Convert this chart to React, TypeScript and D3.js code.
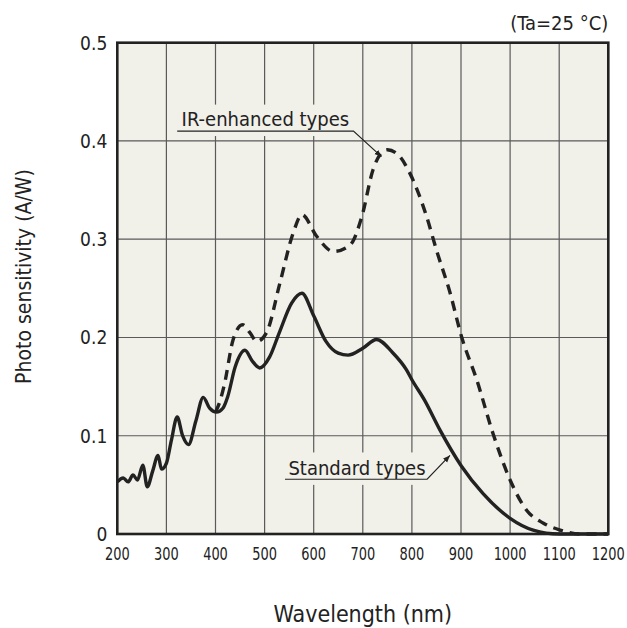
import { useEffect, useRef } from "react";
import * as d3 from "d3";

// wavelength (nm) / photo sensitivity (A/W)
const standardWl = [
  200, 212, 222, 232, 241, 252, 261, 272, 283, 290, 300, 310, 322, 333, 345,
  360, 375, 388, 402, 415, 425, 440, 460, 475, 490, 510, 530, 555, 576, 600,
  625, 650, 670, 700, 728, 760, 789, 800, 826, 857, 901, 945, 1000, 1047,
  1100, 1200,
];
const standardVal = [
  0.053, 0.057, 0.053, 0.06, 0.055, 0.07, 0.048, 0.064, 0.08, 0.066, 0.072,
  0.095, 0.119, 0.1, 0.091, 0.115, 0.139, 0.128, 0.124, 0.128, 0.14, 0.17,
  0.187, 0.176, 0.169, 0.18, 0.205, 0.235, 0.245, 0.222, 0.196, 0.184, 0.182,
  0.189, 0.198, 0.185, 0.167, 0.157, 0.136, 0.106, 0.069, 0.041, 0.016, 0.004,
  0, 0,
];

const irWl = [
  400, 409, 418, 436, 455, 470, 484, 504, 531, 558, 576, 606, 640, 674, 698,
  721, 735, 750, 772, 796, 830, 850, 878, 901, 932, 966, 1000, 1034, 1068,
  1102, 1142, 1200,
];
const irVal = [
  0.124, 0.135, 0.152, 0.198, 0.213, 0.205, 0.196, 0.205, 0.255, 0.306, 0.325,
  0.303, 0.2875, 0.294, 0.323, 0.371, 0.386, 0.391, 0.386, 0.367, 0.323, 0.289,
  0.245, 0.201, 0.157, 0.101, 0.055, 0.024, 0.011, 0.004, 0, 0,
];

const xTicks = [200, 300, 400, 500, 600, 700, 800, 900, 1000, 1100, 1200];
const yTicks = [0, 0.1, 0.2, 0.3, 0.4, 0.5];
const yTickLabels = ["0", "0.1", "0.2", "0.3", "0.4", "0.5"];

const W = 627;
const H = 628;
const margin = { top: 42.7, right: 18.7, bottom: 94, left: 117.3 };
const BG = "#f1f0e9";
const INK = "#222";
const FONT = "'DejaVu Sans Condensed', 'DejaVu Sans', sans-serif";

const App = () => {
  const svgRef = useRef<SVGSVGElement>(null);

  useEffect(() => {
    const svg = d3.select(svgRef.current);
    svg.selectAll("*").remove();

    const x = d3.scaleLinear().domain([200, 1200]).range([margin.left, W - margin.right]);
    const y = d3.scaleLinear().domain([0, 0.5]).range([H - margin.bottom, margin.top]);

    const defs = svg.append("defs");
    defs
      .append("marker")
      .attr("id", "arrow")
      .attr("viewBox", "0 0 10 10")
      .attr("refX", 10)
      .attr("refY", 5)
      .attr("markerWidth", 7)
      .attr("markerHeight", 7)
      .attr("markerUnits", "userSpaceOnUse")
      .attr("orient", "auto")
      .append("path")
      .attr("d", "M0,1 L10,5 L0,9 Z")
      .attr("fill", INK);

    // plot background
    svg
      .append("rect")
      .attr("x", x(200))
      .attr("y", y(0.5))
      .attr("width", x(1200) - x(200))
      .attr("height", y(0) - y(0.5))
      .attr("fill", BG);

    // grid
    const grid = svg.append("g").attr("stroke", "#5a5a5a").attr("stroke-width", 1.2);
    grid
      .selectAll("line.v")
      .data(xTicks)
      .enter()
      .append("line")
      .attr("x1", (d) => x(d))
      .attr("x2", (d) => x(d))
      .attr("y1", y(0))
      .attr("y2", y(0.5));
    grid
      .selectAll("line.h")
      .data(yTicks)
      .enter()
      .append("line")
      .attr("x1", x(200))
      .attr("x2", x(1200))
      .attr("y1", (d) => y(d))
      .attr("y2", (d) => y(d));

    // curves
    const line = d3
      .line<[number, number]>()
      .x((d) => x(d[0]))
      .y((d) => y(d[1]))
      .curve(d3.curveMonotoneX);

    const irData = irWl.map((w, i) => [w, irVal[i]] as [number, number]);
    const stdData = standardWl.map((w, i) => [w, standardVal[i]] as [number, number]);

    svg
      .append("path")
      .attr("d", line(irData))
      .attr("fill", "none")
      .attr("stroke", INK)
      .attr("stroke-width", 3.4)
      .attr("stroke-dasharray", "10,7");
    svg
      .append("path")
      .attr("d", line(stdData))
      .attr("fill", "none")
      .attr("stroke", INK)
      .attr("stroke-width", 3.4)
      .attr("stroke-linejoin", "round");

    // annotations (label box masks the grid behind the text)
    const annots = [
      {
        text: "IR-enhanced types",
        tx: 331, ty: 0.415,
        box: [322, 681, 0.437, 0.405],
        ul: [322, 681, 0.41],
        tip: [738, 0.384],
      },
      {
        text: "Standard types",
        tx: 548.5, ty: 0.06,
        box: [541.5, 831, 0.083, 0.05],
        ul: [541.5, 831, 0.0557],
        tip: [877.5, 0.08],
      },
    ];
    annots.forEach((a) => {
      svg
        .append("rect")
        .attr("x", x(a.box[0]))
        .attr("y", y(a.box[2]))
        .attr("width", x(a.box[1]) - x(a.box[0]))
        .attr("height", y(a.box[3]) - y(a.box[2]))
        .attr("fill", BG);
      svg
        .append("text")
        .attr("x", x(a.tx))
        .attr("y", y(a.ty))
        .attr("font-family", FONT)
        .attr("font-size", 20)
        .attr("fill", INK)
        .text(a.text);
      svg
        .append("path")
        .attr(
          "d",
          `M${x(a.ul[0])},${y(a.ul[2])} L${x(a.ul[1])},${y(a.ul[2])} L${x(a.tip[0])},${y(a.tip[1])}`
        )
        .attr("fill", "none")
        .attr("stroke", INK)
        .attr("stroke-width", 1.2)
        .attr("marker-end", "url(#arrow)");
    });

    // frame
    svg
      .append("rect")
      .attr("x", x(200))
      .attr("y", y(0.5))
      .attr("width", x(1200) - x(200))
      .attr("height", y(0) - y(0.5))
      .attr("fill", "none")
      .attr("stroke", INK)
      .attr("stroke-width", 2.6);

    // y tick labels
    svg
      .selectAll("text.ytick")
      .data(yTicks)
      .enter()
      .append("text")
      .attr("x", x(200) - 10)
      .attr("y", (d) => y(d) + 7)
      .attr("text-anchor", "end")
      .attr("font-family", FONT)
      .attr("font-size", 19)
      .attr("fill", INK)
      .text((_, i) => yTickLabels[i]);

    // x tick labels (narrow)
    svg
      .selectAll("text.xtick")
      .data(xTicks)
      .enter()
      .append("text")
      .attr("transform", (d) => `translate(${x(d)},${y(0) + 26}) scale(0.8,1)`)
      .attr("text-anchor", "middle")
      .attr("font-family", FONT)
      .attr("font-size", 18)
      .attr("fill", INK)
      .text((d) => d);

    // titles
    svg
      .append("text")
      .attr("x", (x(200) + x(1200)) / 2)
      .attr("y", 622)
      .attr("text-anchor", "middle")
      .attr("font-family", FONT)
      .attr("font-size", 23)
      .attr("fill", INK)
      .text("Wavelength (nm)");
    svg
      .append("text")
      .attr("transform", `translate(31,${(168 + 385) / 2}) rotate(-90)`)
      .attr("text-anchor", "middle")
      .attr("font-family", FONT)
      .attr("font-size", 21)
      .attr("fill", INK)
      .text("Photo sensitivity (A/W)");
    svg
      .append("text")
      .attr("x", x(1200))
      .attr("y", 30)
      .attr("text-anchor", "end")
      .attr("font-family", FONT)
      .attr("font-size", 20)
      .attr("fill", INK)
      .text("(Ta=25 °C)");
  }, []);

  return (
    <svg
      ref={svgRef}
      width={W}
      height={H}
      style={{ position: "absolute", left: 0, top: 0, display: "block", background: "#fff" }}
    />
  );
};

export default App;
